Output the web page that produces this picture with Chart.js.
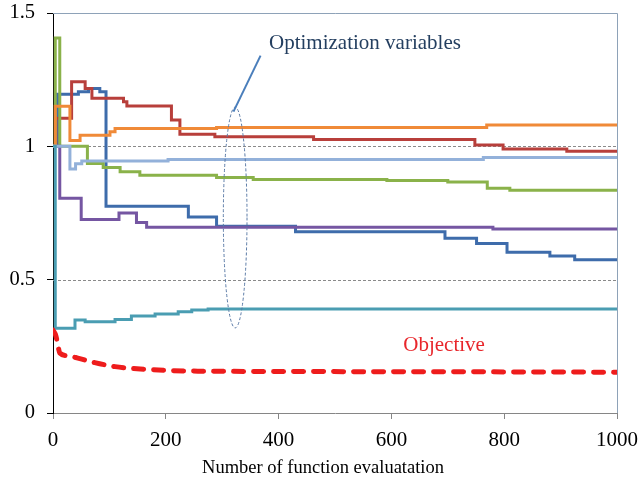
<!DOCTYPE html>
<html><head><meta charset="utf-8">
<script src="https://cdn.jsdelivr.net/npm/chart.js@4.4.1/dist/chart.umd.min.js"></script>
<style>html,body{margin:0;padding:0;background:#fff}#wrap{width:641px;height:486px}</style>
</head><body><div id="wrap"><canvas id="c" width="641" height="486"></canvas></div>
<script>
// ---- data (x = number of function evaluations, y = normalised value) ----
const xTicks = [0, 200, 400, 600, 800, 1000];
const yTicks = [0, 0.5, 1, 1.5];
const dashedGridValues = [0.5, 1];

const objX = [0, 5, 9, 12, 25, 44, 74, 110, 163, 257, 600, 1000];
const objY = [0.311, 0.29, 0.25, 0.225, 0.215, 0.206, 0.189, 0.174, 0.164, 0.157, 0.155, 0.153];

const blueX = [0, 8, 45, 63, 83, 94, 240, 290, 430, 695, 751, 805, 881, 925, 1000];
const blueY = [1.0, 1.195, 1.205, 1.217, 1.205, 0.775, 0.735, 0.70, 0.68, 0.655, 0.636, 0.603, 0.589, 0.575, 0.575];

const redX = [0, 5, 33, 57, 69, 125, 131, 210, 225, 287, 462, 748, 798, 911, 1000];
const redY = [1.0, 1.105, 1.242, 1.217, 1.18, 1.167, 1.151, 1.099, 1.045, 1.036, 1.026, 1.005, 0.99, 0.982, 0.982];

const orangeX = [0, 4, 30, 48, 101, 110, 290, 769, 1000];
const orangeY = [1.0, 1.15, 1.022, 1.042, 1.055, 1.067, 1.071, 1.08, 1.08];

const greenX = [0, 4, 12, 61, 89, 119, 154, 290, 355, 592, 700, 770, 810, 1000];
const greenY = [1.0, 1.406, 1.0, 0.936, 0.921, 0.905, 0.892, 0.883, 0.876, 0.872, 0.866, 0.843, 0.835, 0.83];

const lightX = [0, 30, 40, 51, 204, 763, 1000];
const lightY = [1.0, 0.915, 0.935, 0.945, 0.951, 0.958, 0.958];

const purpleX = [0, 12, 50, 117, 148, 166, 780, 1000];
const purpleY = [1.0, 0.805, 0.726, 0.75, 0.714, 0.697, 0.69, 0.69];

const tealX = [0, 4, 39, 57, 110, 139, 181, 222, 246, 275, 1000];
const tealY = [1.0, 0.318, 0.349, 0.342, 0.351, 0.364, 0.371, 0.38, 0.386, 0.39, 0.392];

const xTitle = 'Number of function evaluatation';
const varLabel = 'Optimization variables';
const objLabel = 'Objective';

// ---- helpers ----
const pts = (xs, ys) => xs.map((x, i) => ({x, y: ys[i]}));
const FONT = '"Liberation Serif", "Times New Roman", serif';

function varSet(xs, ys, color) {
  return {data: pts(xs, ys), borderColor: color, borderWidth: 3, stepped: 'before',
          pointRadius: 0, fill: false, borderJoinStyle: 'miter', borderCapStyle: 'butt'};
}

const decor = {
  id: 'decor',
  beforeDatasetsDraw(chart) {
    const {ctx, chartArea: a, scales: {x, y}} = chart;
    ctx.save();
    ctx.lineWidth = 1;
    ctx.strokeStyle = '#8a8a8a';
    ctx.setLineDash([3, 2]);
    dashedGridValues.forEach(v => {
      const py = Math.round(y.getPixelForValue(v)) + 0.5;
      ctx.beginPath(); ctx.moveTo(a.left, py); ctx.lineTo(a.right, py); ctx.stroke();
    });
    ctx.setLineDash([]);
    ctx.strokeStyle = '#8ea2b8';
    const top = Math.round(y.getPixelForValue(1.5)) + 0.5;
    const right = Math.round(x.getPixelForValue(1000)) + 0.5;
    ctx.beginPath(); ctx.moveTo(a.left, top); ctx.lineTo(right, top); ctx.lineTo(right, a.bottom); ctx.stroke();
    ctx.restore();
  },
  afterDatasetsDraw(chart) {
    const {ctx, scales: {x, y}} = chart;
    ctx.save();
    // dashed ellipse around the variable curves
    const cx = x.getPixelForValue(323), cy = y.getPixelForValue(0.733);
    const rx = x.getPixelForValue(323 + 21) - cx, ry = cy - y.getPixelForValue(0.733 + 0.414);
    ctx.setLineDash([3, 2]);
    ctx.strokeStyle = '#5a7aa6';
    ctx.lineWidth = 1;
    ctx.beginPath(); ctx.ellipse(cx, cy, rx, ry, 0, 0, Math.PI * 2); ctx.stroke();
    // leader line
    ctx.setLineDash([]);
    ctx.strokeStyle = '#4a7ebb';
    ctx.lineWidth = 2;
    ctx.beginPath();
    ctx.moveTo(x.getPixelForValue(320), y.getPixelForValue(1.13));
    ctx.lineTo(x.getPixelForValue(368), y.getPixelForValue(1.34));
    ctx.stroke();
    // labels
    ctx.font = '21px ' + FONT;
    ctx.textBaseline = 'middle';
    ctx.textAlign = 'left';
    ctx.fillStyle = '#243f60';
    ctx.fillText(varLabel, x.getPixelForValue(383), y.getPixelForValue(1.387));
    ctx.fillStyle = '#e8262b';
    ctx.fillText(objLabel, x.getPixelForValue(621), y.getPixelForValue(0.255));
    ctx.restore();
  },
  afterDraw(chart) {
    // axis title, centred like the reference (slightly left of the plot centre)
    const {ctx, scales: {x}} = chart;
    ctx.save();
    ctx.font = '18.5px ' + FONT;
    ctx.fillStyle = '#000';
    ctx.textAlign = 'center';
    ctx.textBaseline = 'middle';
    ctx.fillText(xTitle, (x.left + x.right) / 2 - 12, x.bottom - 18);
    ctx.restore();
  }
};

const chart = new Chart(document.getElementById('c'), {
  type: 'line',
  data: {
    datasets: [
      {data: pts(objX, objY), borderColor: '#ee1c1c', borderWidth: 5, borderDash: [10, 10],
       borderCapStyle: 'round', pointRadius: 0, cubicInterpolationMode: 'monotone', fill: false},
      varSet(tealX, tealY, '#4a9db2'),
      varSet(lightX, lightY, '#93b1da'),
      varSet(orangeX, orangeY, '#f08a38'),
      varSet(purpleX, purpleY, '#7556a2'),
      varSet(greenX, greenY, '#8ab24a'),
      varSet(redX, redY, '#b83f3b'),
      varSet(blueX, blueY, '#3e6cab')
    ]
  },
  options: {
    responsive: false,
    animation: false,
    devicePixelRatio: 1,
    layout: {padding: {left: 0, top: 13, right: 24, bottom: 0}},
    plugins: {legend: {display: false}, tooltip: {enabled: false}},
    scales: {
      x: {
        type: 'linear', min: 0, max: 1000,
        afterBuildTicks: s => { s.ticks = xTicks.map(v => ({value: v})); },
        afterFit: s => { s.height = 73; s.paddingLeft = 0; s.paddingRight = 0; },
        ticks: {font: {family: FONT, size: 21}, color: '#000', padding: 9, maxRotation: 0,
                callback: v => String(v)},
        grid: {drawOnChartArea: false, drawTicks: true, tickLength: 6, tickColor: '#868686'},
        border: {display: true, color: '#868686', width: 1},
        title: {display: false}
      },
      y: {
        type: 'linear', min: 0, max: 1.5,
        afterBuildTicks: s => { s.ticks = yTicks.map(v => ({value: v})); },
        afterFit: s => { s.width = 53; s.paddingTop = 0; s.paddingBottom = 0; },
        ticks: {font: {family: FONT, size: 20.5}, color: '#000', padding: 12,
                callback: v => String(v)},
        grid: {drawOnChartArea: false, drawTicks: true, tickLength: 6, tickColor: '#000'},
        border: {display: true, color: '#000', width: 1}
      }
    }
  },
  plugins: [decor]
});

// safety: nudge layout padding so the plot area lands where the reference has it
const target = {left: 53, top: 13, right: 617, bottom: 413};
for (let k = 0; k < 4; k++) {
  const a = chart.chartArea;
  const p = chart.options.layout.padding;
  const d = {l: target.left - a.left, t: target.top - a.top, r: a.right - target.right, b: a.bottom - target.bottom};
  if (Math.abs(d.l) + Math.abs(d.t) + Math.abs(d.r) + Math.abs(d.b) < 0.5) break;
  p.left = Math.max(0, p.left + d.l);
  p.top = Math.max(0, p.top + d.t);
  p.right = Math.max(0, p.right + d.r);
  p.bottom = Math.max(0, p.bottom + d.b);
  chart.update();
}
</script></body></html>
